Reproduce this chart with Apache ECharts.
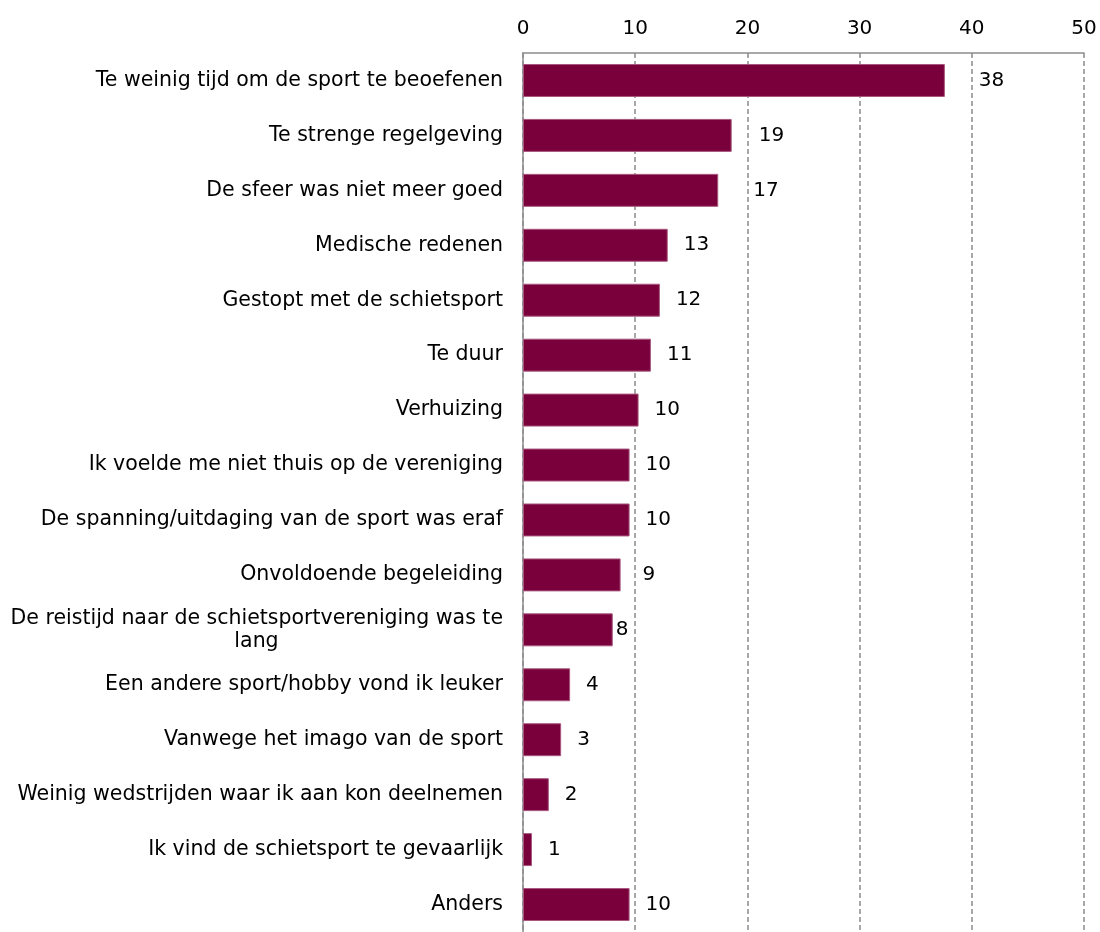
<!DOCTYPE html>
<html>
<head>
<meta charset="utf-8">
<script src="https://cdn.jsdelivr.net/npm/echarts@6/dist/echarts.min.js"></script>
<style>html,body{margin:0;padding:0;background:#fff}#c{width:1100px;height:932px}</style>
</head>
<body>
<div id="c"></div>
<script>
const categories = [
  "Te weinig tijd om de sport te beoefenen",
  "Te strenge regelgeving",
  "De sfeer was niet meer goed",
  "Medische redenen",
  "Gestopt met de schietsport",
  "Te duur",
  "Verhuizing",
  "Ik voelde me niet thuis op de vereniging",
  "De spanning/uitdaging van de sport was eraf",
  "Onvoldoende begeleiding",
  "De reistijd naar de schietsportvereniging was te\nlang",
  "Een andere sport/hobby vond ik leuker",
  "Vanwege het imago van de sport",
  "Weinig wedstrijden waar ik aan kon deelnemen",
  "Ik vind de schietsport te gevaarlijk",
  "Anders"
];
const values = [37.6, 18.6, 17.4, 12.9, 12.2, 11.4, 10.3, 9.5, 9.5, 8.7, 8.0, 4.2, 3.4, 2.3, 0.8, 9.5];
const xTicks = [0, 10, 20, 30, 40, 50];

// label nudges (style only), by category index
const labelExtraGap = {0: 18, 1: 11, 2: 19, 9: 6, 10: -13};

const fontFamily = "'DejaVu Sans', sans-serif";
const fontSize = 20.5;
const ctx = document.createElement('canvas').getContext('2d');
ctx.font = fontSize + 'px ' + fontFamily;

// multi-line category labels: centre the following lines under the first line
const rich = {a: {fontFamily, fontSize, color: '#000', lineHeight: 23}};
function catFormatter(v) {
  const lines = v.split('\n');
  if (lines.length === 1) return v;
  const w = Math.ceil(ctx.measureText(lines[0]).width);
  rich.b = {fontFamily, fontSize, color: '#000', lineHeight: 23, width: w, align: 'center'};
  return '{a|' + lines[0] + '}\n' + lines.slice(1).map(l => '{b|' + l + '}').join('\n');
}
categories.forEach(catFormatter);

const chart = echarts.init(document.getElementById('c'), null, {renderer: 'canvas'});
chart.setOption({
  animation: false,
  grid: {left: 523, right: 16, top: 53, height: 885, containLabel: false},
  xAxis: {
    type: 'value', position: 'top', min: xTicks[0], max: xTicks[xTicks.length - 1], interval: 10,
    axisLine: {show: true, lineStyle: {color: '#8c8c8c', width: 1.5}},
    axisTick: {show: false},
    axisLabel: {color: '#000', fontFamily, fontSize: 20, margin: 14},
    splitLine: {show: true, lineStyle: {color: '#8c8c8c', type: [5, 3], width: 1.5}}
  },
  yAxis: {
    type: 'category', inverse: true, data: categories,
    axisLine: {show: true, lineStyle: {color: '#8c8c8c', width: 1.5}},
    axisTick: {show: false},
    axisLabel: {color: '#000', fontFamily, fontSize, margin: 20, align: 'right', lineHeight: 23,
      formatter: catFormatter, rich}
  },
  series: [{
    type: 'bar',
    data: values.map((v, i) => ({
      value: v,
      label: {distance: 16 + (labelExtraGap[i] || 0)}
    })),
    barCategoryGap: '40%',
    itemStyle: {color: '#7a003c', borderColor: '#a8577e', borderWidth: 1},
    label: {
      show: true, position: 'right', color: '#000', fontFamily, fontSize: 20,
      formatter: p => Math.round(p.value)
    }
  }]
});
</script>
</body>
</html>
